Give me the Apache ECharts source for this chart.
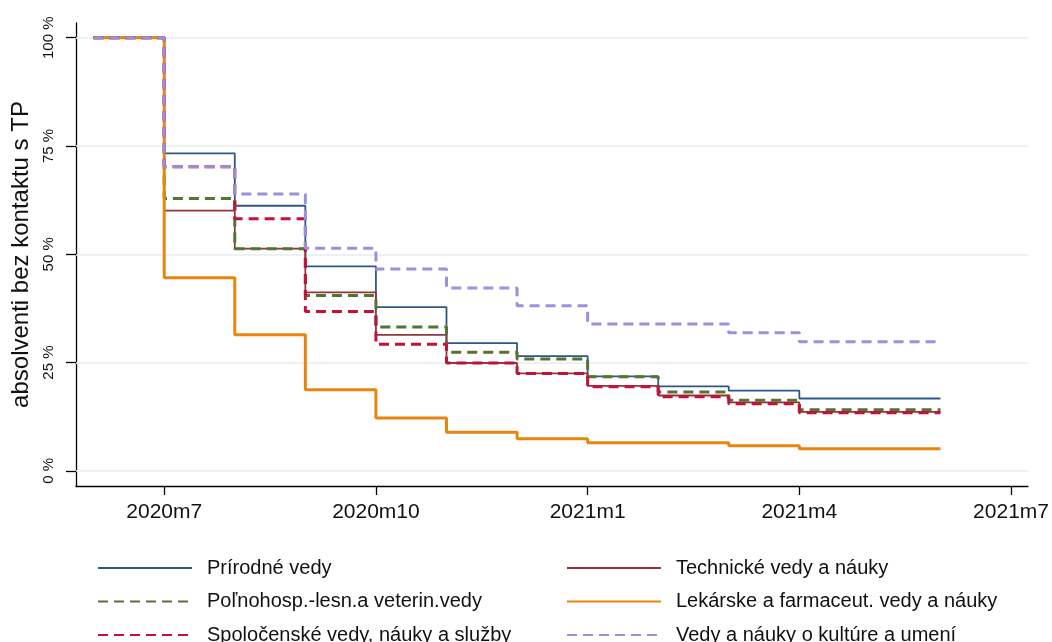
<!DOCTYPE html>
<html><head><meta charset="utf-8">
<script src="https://cdn.jsdelivr.net/npm/echarts@6/dist/echarts.min.js"></script>
<style>html,body{margin:0;padding:0;background:#fff;overflow:hidden}#c{width:1052px;height:642px}</style>
</head><body><div id="c"></div>
<script>
// month index 0 = 2020m6 ... 12 = 2021m6
const months = ['2020m6','2020m7','2020m8','2020m9','2020m10','2020m11','2020m12','2021m1','2021m2','2021m3','2021m4','2021m5','2021m6'];
const xTickValues = [1, 4, 7, 10, 13];
const xTickLabels = ['2020m7', '2020m10', '2021m1', '2021m4', '2021m7'];
const yTickValues = [0, 25, 50, 75, 100];
const yTickLabels = ['0 %', '25 %', '50 %', '75 %', '100 %'];

const prirodne    = [100, 73.3, 61.2, 47.2, 37.8, 29.5, 26.5, 21.8, 19.5, 18.5, 16.7, 16.7, 16.7];
const technicke   = [100, 60.1, 51.3, 41.2, 31.4, 24.9, 22.5, 19.6, 17.4, 15.8, 13.6, 13.6, 13.6];
const polnohosp   = [100, 62.9, 51.3, 40.5, 33.2, 27.4, 25.8, 21.7, 18.2, 16.3, 14.1, 14.1, 14.1];
const lekarske    = [100, 44.6, 31.4, 18.7, 12.2, 8.9, 7.4, 6.5, 6.5, 5.8, 5.1, 5.1, 5.1];
const spolocenske = [100, 70.2, 58.2, 36.8, 29.2, 24.9, 22.5, 19.4, 17.1, 15.5, 13.4, 13.4, 13.4];
const kultura     = [100, 70.2, 63.9, 51.4, 46.6, 42.2, 38.1, 33.9, 33.9, 31.9, 29.8, 29.8, 29.8];

const names = ['Prírodné vedy', 'Technické vedy a náuky', 'Poľnohosp.-lesn.a veterin.vedy',
  'Lekárske a farmaceut. vedy a náuky', 'Spoločenské vedy, náuky a služby', 'Vedy a náuky o kultúre a umení'];
const values = [prirodne, technicke, polnohosp, lekarske, spolocenske, kultura];
const colors = ['#2b5987', '#93353d', '#55752f', '#e8850f', '#c4103d', '#9a91db'];
const widths = [1.8, 1.8, 3, 3, 3, 3];
const dashes = ['solid', 'solid', [10, 6], 'solid', [10, 6], [10, 6]];

const FONT = "'Liberation Sans', Arial, sans-serif";

const chart = echarts.init(document.getElementById('c'), null, { renderer: 'canvas', width: 1052, height: 642 });

const series = names.map((n, i) => ({
  name: n, type: 'line', step: 'end', symbol: 'none', z: 2,
  data: values[i].map((v, k) => [k, v]),
  lineStyle: { color: colors[i], width: widths[i], type: dashes[i] },
  itemStyle: { color: colors[i] }
}));
series[0].markLine = {
  silent: true, symbol: 'none', z: 1, animation: false,
  label: { show: false },
  lineStyle: { color: '#e8edf0', width: 1.5, type: 'solid' },
  data: yTickValues.map(v => ({ yAxis: v }))
};

const legendBase = {
  orient: 'vertical', top: 551, height: 200, itemWidth: 94, itemHeight: 14, itemGap: 9.5,
  itemStyle: { opacity: 0, borderWidth: 0 },
  textStyle: { fontFamily: FONT, fontSize: 20, color: '#111', lineHeight: 24, padding: [0, 0, 0, 10] }
};

chart.setOption({
  animation: false,
  backgroundColor: '#fff',
  grid: { left: 76, right: 14, top: 23, bottom: 156, containLabel: false },
  xAxis: {
    type: 'value', min: -0.25, max: 13.24,
    axisLine: { show: true, onZero: false, lineStyle: { color: '#000', width: 1.3 } },
    axisTick: { show: true, customValues: xTickValues, length: 9, lineStyle: { color: '#000', width: 1.3 } },
    axisLabel: { customValues: xTickValues, margin: 16, fontFamily: FONT, fontSize: 21, color: '#111',
      formatter: v => xTickLabels[xTickValues.indexOf(Math.round(v))] || '' },
    splitLine: { show: false }
  },
  yAxis: {
    type: 'value', min: -3.5, max: 103.4,
    name: 'absolventi bez kontaktu s TP', nameLocation: 'middle', nameGap: 36, nameRotate: 90,
    nameTextStyle: { fontFamily: FONT, fontSize: 24, color: '#111' },
    axisLine: { show: true, onZero: false, lineStyle: { color: '#000', width: 1.3 } },
    axisTick: { show: true, customValues: yTickValues, length: 10, lineStyle: { color: '#000', width: 1.3 } },
    axisLabel: { customValues: yTickValues, rotate: 90, margin: 20, fontFamily: FONT, fontSize: 15, color: '#111',
      formatter: v => yTickLabels[yTickValues.indexOf(Math.round(v))] || '' },
    splitLine: { show: false }
  },
  legend: [
    Object.assign({}, legendBase, { left: 92, data: [names[0], names[2], names[4]] }),
    Object.assign({}, legendBase, { left: 561, data: [names[1], names[3], names[5]] })
  ],
  series: series
});
</script></body></html>
